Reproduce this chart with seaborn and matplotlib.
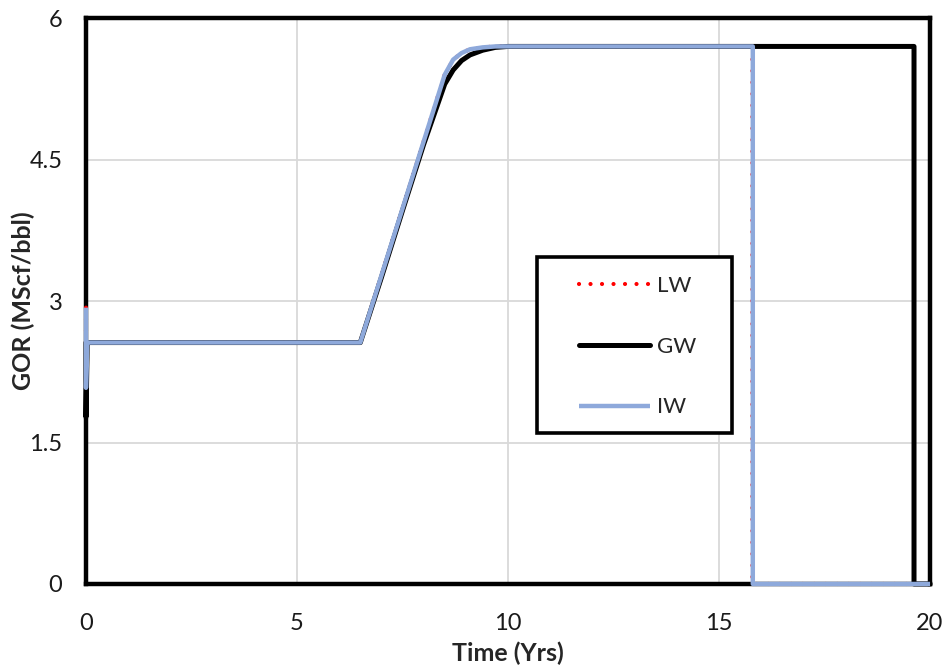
import numpy as np
import pandas as pd
import matplotlib
matplotlib.use("Agg")
import matplotlib.pyplot as plt
from matplotlib.patches import Rectangle
import seaborn as sns

# Gas-oil ratio histories for the three well cases
lw_time = [0.0, 0.0, 0.03, 6.5, 7.0, 7.5, 8.0, 8.5, 8.7, 8.9, 9.1, 9.4, 9.7, 10.0, 12.0, 15.79, 15.79, 20.0]
lw_gor = [2.93, 2.08, 2.56, 2.56, 3.27, 3.98, 4.69, 5.40, 5.56, 5.63, 5.67, 5.69, 5.70, 5.70, 5.70, 5.70, 0.0, 0.0]

gw_time = [0.0, 0.0, 0.03, 6.5, 7.0, 7.5, 8.0, 8.5, 8.7, 8.9, 9.1, 9.4, 9.7, 10.0, 12.0, 19.62, 19.62, 20.0]
gw_gor = [2.56, 1.77, 2.56, 2.56, 3.25, 3.96, 4.66, 5.30, 5.45, 5.55, 5.61, 5.66, 5.69, 5.70, 5.70, 5.70, 0.0, 0.0]

iw_time = [0.0, 0.0, 0.03, 6.5, 7.0, 7.5, 8.0, 8.5, 8.7, 8.9, 9.1, 9.4, 9.7, 10.0, 12.0, 15.8, 15.8, 20.0]
iw_gor = [2.93, 2.08, 2.56, 2.56, 3.27, 3.98, 4.69, 5.40, 5.56, 5.63, 5.67, 5.69, 5.70, 5.70, 5.70, 5.70, 0.0, 0.0]

x_ticks = [0, 5, 10, 15, 20]
y_ticks = [0, 1.5, 3, 4.5, 6]
y_tick_labels = ["0", "1.5", "3", "4.5", "6"]

sns.set_theme(style="white")
plt.rcParams["font.family"] = ["Lato", "DejaVu Sans"]

fig = plt.figure(figsize=(9.5, 6.72), dpi=100)
ax = fig.add_axes([0.0905, 0.131, 0.8885, 0.842])

lw_df = pd.DataFrame({"t": lw_time, "gor": lw_gor})
gw_df = pd.DataFrame({"t": gw_time, "gor": gw_gor})
iw_df = pd.DataFrame({"t": iw_time, "gor": iw_gor})

common = dict(sort=False, estimator=None, clip_on=False)
sns.lineplot(data=lw_df, x="t", y="gor", ax=ax, color="#FF0000",
             linewidth=3.0, linestyle=(0, (0.01, 2.75)), dash_capstyle="round",
             label="LW", zorder=6, **common)
sns.lineplot(data=gw_df, x="t", y="gor", ax=ax, color="black",
             linewidth=3.6, solid_joinstyle="round", solid_capstyle="round",
             label="GW", zorder=7, **common)
sns.lineplot(data=iw_df, x="t", y="gor", ax=ax, color="#8EA9DB",
             linewidth=3.2, solid_joinstyle="round", solid_capstyle="butt",
             label="IW", zorder=8, **common)

ax.set_xlim(0, 20)
ax.set_ylim(0, 6)
ax.set_xticks(x_ticks)
ax.set_yticks(y_ticks)
ax.set_yticklabels(y_tick_labels)
ax.grid(True, color="#D9D9D9", linewidth=1.3)
ax.set_axisbelow(True)

for side in ["left", "right", "top", "bottom"]:
    ax.spines[side].set_visible(True)
    ax.spines[side].set_color("black")
    ax.spines[side].set_linewidth(3.2)
    ax.spines[side].set_zorder(5)

ax.tick_params(axis="x", which="both", length=0, labelsize=17, pad=21,
               colors="#1a1a1a")
ax.tick_params(axis="y", which="both", length=0, labelsize=17, pad=17,
               colors="#1a1a1a")
ax.set_xlabel("Time (Yrs)", fontsize=18, fontweight="bold")
ax.set_ylabel("GOR (MScf/bbl)", fontsize=18, fontweight="bold")
ax.xaxis.set_label_coords(0.5, -0.122, transform=ax.transAxes)
ax.yaxis.set_label_coords(-0.0746, 0.5, transform=ax.transAxes)
ax.xaxis.label.set_va("center")
ax.yaxis.label.set_va("center")

# Legend entries inside a square-cornered black box
box = Rectangle((0.5344, 0.2668), 0.2310, 0.311, transform=ax.transAxes,
                facecolor="white", edgecolor="black", linewidth=2.6,
                zorder=9, clip_on=False)
ax.add_patch(box)
leg = ax.legend(loc="upper left", bbox_to_anchor=(0.5841, 0.544), fontsize=16,
                frameon=False, handlelength=3.2, labelspacing=1.83,
                borderpad=0, handletextpad=0.32, borderaxespad=0)
leg.set_zorder(10)

fig.savefig("out.png", dpi=100)
